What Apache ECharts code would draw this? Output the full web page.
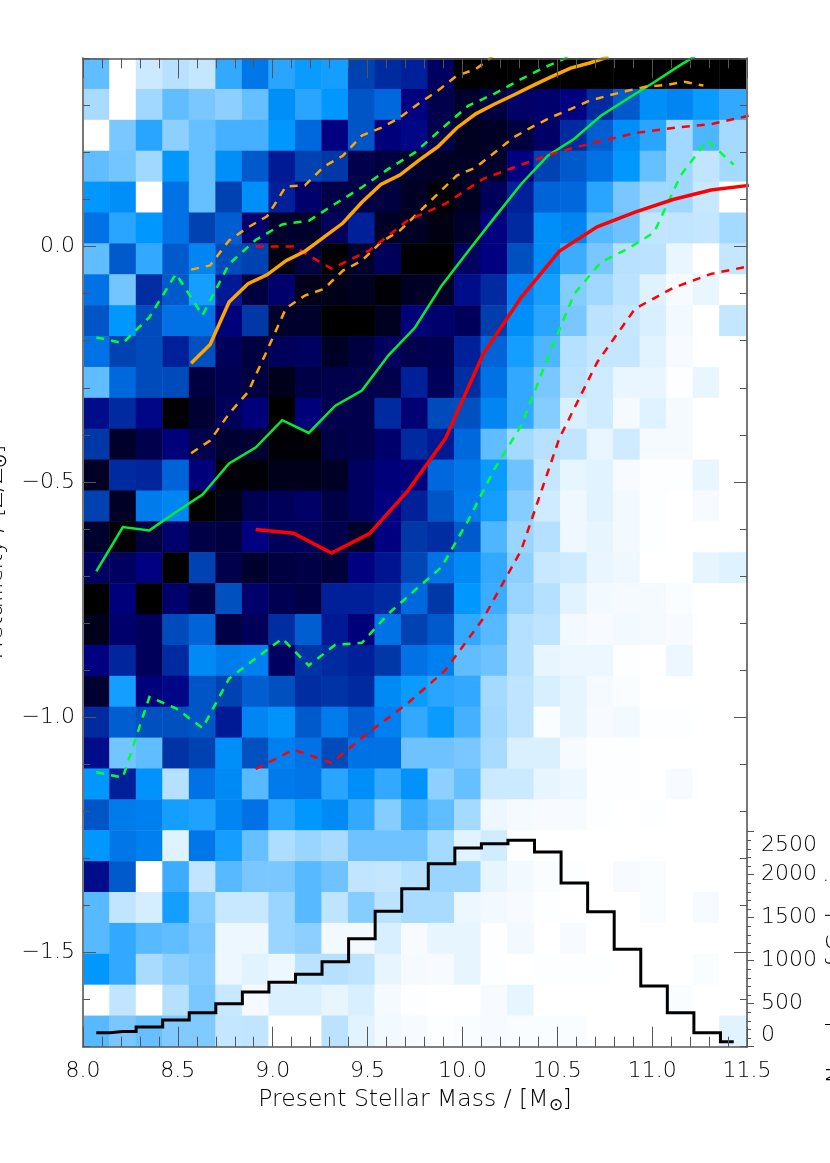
<!DOCTYPE html>
<html>
<head>
<meta charset="utf-8">
<style>html,body{margin:0;padding:0;background:#fff}#c{width:830px;height:1163px}</style>
<script src="https://cdn.jsdelivr.net/npm/echarts@6/dist/echarts.min.js"></script>
</head>
<body>
<div id="c"></div>
<script>
// Density cells, top row first (0 = white ... 100 = black)
const densityRows = [
[40,0,18,24,20,45,57,46,49,48,68,73,75,85,100,100,100,100,100,100,100,100,100,100,100],
[28,0,30,40,36,33,39,52,46,50,64,60,80,88,93,90,84,83,80,73,63,52,54,49,45],
[0,36,46,33,39,43,43,50,60,80,64,81,79,88,95,94,90,84,73,62,52,46,30,42,29],
[40,37,30,50,39,52,63,76,68,70,88,90,93,94,94,93,80,68,63,58,50,39,30,21,29],
[50,52,0,58,39,68,52,75,83,89,89,90,94,99,95,86,75,61,60,46,36,30,30,19,0],
[58,46,50,58,68,62,83,93,93,86,75,94,94,97,93,80,73,52,54,41,38,21,21,20,29],
[40,63,45,63,54,66,68,97,90,100,93,86,100,100,85,80,65,52,44,36,24,23,8,0,20],
[58,37,72,63,48,76,90,83,96,96,95,99,94,94,78,73,55,48,34,30,23,12,3,8,0],
[64,50,66,58,58,81,70,93,93,100,100,95,81,83,86,69,52,46,36,23,20,14,5,0,20],
[58,68,66,75,65,86,90,86,85,94,90,85,88,87,75,61,48,42,25,20,20,11,3,0,0],
[40,60,66,66,90,87,90,96,89,88,88,88,75,86,72,58,45,36,23,17,8,8,1,8,0],
[78,73,79,100,92,86,81,100,81,88,88,73,82,66,65,54,45,34,13,17,4,12,4,0,0],
[70,93,88,81,88,92,92,99,99,89,88,83,73,76,60,40,29,24,21,8,17,4,4,0,0],
[94,73,74,61,81,99,99,96,96,94,85,81,81,60,57,49,38,20,9,11,3,1,1,8,0],
[68,94,56,54,100,96,87,86,84,89,85,80,75,64,56,48,34,17,6,11,5,1,0,3,0],
[93,99,90,83,89,90,80,86,86,88,93,80,70,72,63,42,31,25,6,9,5,1,0,0,0],
[85,85,80,100,68,88,93,90,89,91,80,77,67,58,53,45,33,19,17,8,6,0,0,9,12],
[100,81,100,83,89,65,83,87,89,75,75,73,60,70,50,44,31,25,11,5,4,4,2,0,0],
[96,83,86,66,61,89,86,72,62,76,81,58,68,63,45,41,25,22,5,3,5,4,3,0,0],
[80,74,86,73,53,56,55,85,71,73,75,70,58,55,40,38,25,9,7,7,1,0,7,0,0],
[92,48,81,79,64,68,62,65,72,71,73,53,49,46,45,29,22,14,9,4,2,0,0,0,0],
[73,62,65,65,64,76,54,51,63,56,62,55,45,49,43,30,22,2,9,3,5,1,1,0,0],
[78,37,40,71,68,52,65,55,58,66,58,58,38,38,36,28,13,13,3,1,1,0,0,0,0],
[50,75,51,25,58,53,41,56,57,46,52,45,51,33,39,18,18,9,7,1,1,0,3,0,0],
[64,56,55,48,47,54,58,46,50,53,45,34,44,40,29,7,4,3,3,1,0,1,0,0,0],
[50,57,55,12,57,48,39,27,31,28,38,38,38,29,11,16,1,0,0,0,0,0,0,0,0],
[78,63,0,44,21,41,36,36,41,38,21,20,25,31,31,9,5,2,1,0,3,2,0,0,0],
[41,21,15,48,34,19,19,31,41,22,34,23,28,28,7,5,3,1,0,0,0,2,0,3,0],
[41,45,41,40,36,7,7,31,33,5,5,14,3,9,9,1,5,0,3,0,0,0,0,0,0],
[50,45,28,33,35,7,11,7,23,25,22,9,4,3,9,1,0,1,1,1,0,0,0,2,0],
[0,21,0,25,36,19,4,13,13,9,14,4,1,0,0,3,9,0,0,0,0,0,2,0,0],
[41,36,39,35,35,20,21,0,0,23,11,5,3,1,2,3,2,2,2,0,0,0,0,0,11]
];
const densityColors = ['#ffffff','#f2f9ff','#e4f4ff','#d5eeff','#c4e6ff','#b5e0ff','#a0d8ff','#80caff','#60bdff','#33a8ff','#0098ff','#0080f0','#0068dd','#0050c0','#0038a8','#00209a','#000080','#000060','#000040','#000020','#000000'];

// Mass nodes of the curves
const massFine = [8.07,8.17,8.27,8.37,8.47,8.57,8.67,8.77,8.87,8.97,9.07,9.17,9.27,9.37,9.47,9.57,9.67,9.77,9.87,9.97,10.07,10.17,10.27,10.37,10.47,10.57,10.67,10.77,10.87,10.97,11.07,11.17,11.27,11.37,11.47];
const massBins = [8.07,8.21,8.35,8.49,8.63,8.77,8.91,9.05,9.19,9.33,9.47,9.61,9.75,9.89,10.03,10.17,10.31,10.45,10.59,10.73,10.87,11.01,11.15,11.29,11.43];
const massCoarse = [8.91,9.11,9.31,9.51,9.71,9.91,10.11,10.31,10.51,10.71,10.91,11.11,11.31,11.51];

// Orange curves start at massFine[5]
const orangeMid = [-0.248,-0.208,-0.118,-0.079,-0.060,-0.030,-0.010,0.020,0.050,0.094,0.132,0.152,0.183,0.212,0.252,0.282,0.303,0.322,0.342,0.361,0.379,0.390,0.403];
const orangeHigh = [-0.049,-0.040,0.013,0.041,0.064,0.128,0.130,0.170,0.193,0.236,0.252,0.274,0.304,0.331,0.363,0.377,0.408];
const orangeLow = [-0.439,-0.412,-0.355,-0.309,-0.221,-0.131,-0.104,-0.090,-0.051,-0.030,0.009,0.034,0.073,0.112,0.151,0.168,0.200,0.232,0.255,0.275,0.292,0.310,0.321,0.331,0.340,0.343,0.350,0.342];
// Green curves use massBins
const greenMid = [-0.690,-0.596,-0.603,-0.564,-0.527,-0.461,-0.427,-0.369,-0.396,-0.338,-0.306,-0.231,-0.172,-0.083,-0.010,0.062,0.133,0.193,0.229,0.278,0.314,0.349,0.386,0.420];
const greenHigh = [-0.193,-0.205,-0.150,-0.058,-0.146,-0.037,0.014,0.047,0.055,0.091,0.126,0.165,0.200,0.250,0.299,0.325,0.356,0.384,0.408];
const greenLow = [-1.117,-1.128,-0.957,-0.981,-1.023,-0.918,-0.875,-0.833,-0.890,-0.846,-0.842,-0.780,-0.730,-0.681,-0.582,-0.472,-0.380,-0.236,-0.100,-0.033,-0.005,0.030,0.151,0.226,0.174];
// Red curves use massCoarse
const redMid = [-0.601,-0.609,-0.651,-0.610,-0.520,-0.408,-0.228,-0.108,-0.010,0.042,0.073,0.100,0.120,0.130];
const redHigh = [0.000,0.000,-0.047,-0.008,0.055,0.091,0.144,0.174,0.202,0.222,0.241,0.252,0.260,0.278];
const redLow = [-1.110,-1.069,-1.097,-1.031,-0.971,-0.900,-0.790,-0.645,-0.408,-0.246,-0.132,-0.088,-0.058,-0.042];

// Histogram counts per mass bin
const histCounts = [163,178,229,310,395,500,636,749,842,988,1256,1574,1837,2128,2310,2360,2400,2264,1903,1570,1132,706,395,163,58];

const yMajorTicks = [-1.5,-1.0,-0.5,0.0];

const FONT = '"DejaVu Sans"';
const AXIS = '#555';
const SIDE = '#777';
const TXT = '#000';
const textStyle = {fontFamily:FONT,fontSize:22,fontWeight:200,color:TXT};
const titleStyle = Object.assign({},textStyle,{fontSize:23.5});

const zip = (xs,ys) => ys.map((y,i)=>[xs[i],y]);
const heat = [];
densityRows.forEach((row,r)=>row.forEach((v,c)=>heat.push([c,r,v])));

const frameX = {type:'value',min:8,max:11.5,interval:0.5,gridIndex:1,z:10,
  axisLine:{show:true,onZero:false,lineStyle:{color:AXIS,width:1.5}},
  splitLine:{show:false},
  axisTick:{show:true,inside:true,length:20,lineStyle:{color:AXIS,width:1}},
  minorTick:{show:true,splitNumber:5,length:10,lineStyle:{color:AXIS,width:1}}};
const frameY = {type:'value',min:-1.7,max:0.4,interval:0.1,gridIndex:1,z:10,
  axisLine:{show:true,onZero:false,lineStyle:{color:SIDE,width:2}},
  splitLine:{show:false},
  axisTick:{show:true,inside:true,length:7,lineStyle:{color:AXIS,width:1}}};
const majorY = {type:'value',min:-1.7,max:0.4,gridIndex:1,z:10,
  axisLine:{show:false},splitLine:{show:false},axisLabel:{show:false},
  axisTick:{show:true,inside:true,length:13,customValues:yMajorTicks,lineStyle:{color:AXIS,width:1}}};

const line = (name,xs,ys,color,width,dash,z) => ({
  name,type:'line',xAxisIndex:1,yAxisIndex:1,data:zip(xs,ys),symbol:'none',silent:true,z:z||4,animation:false,
  lineStyle:{color,width,type:dash?[8,7]:'solid',cap:'butt',join:'miter'}
});

const option = {
  animation:false,
  backgroundColor:'#ffffff',
  grid:[
    {left:83,top:58.3,width:663,height:988.4,outerBoundsMode:'none'},
    {left:83,top:58.3,width:664,height:988.4,outerBoundsMode:'none'},
    {left:83,top:831.7,width:664,height:215,outerBoundsMode:'none'}
  ],
  xAxis:[
    {type:'category',gridIndex:0,show:false,data:massBins.map(String)},
    Object.assign({},frameX,{position:'bottom',
      axisLabel:Object.assign({margin:14,showMinLabel:true,showMaxLabel:true,formatter:v=>v.toFixed(1)},textStyle),
      nameLocation:'middle',nameGap:33,
      name:'{a|Present Stellar Mass / [M}{b|\u2299}{a|]}',
      nameTextStyle:{rich:{a:titleStyle,b:Object.assign({},textStyle,{fontSize:17,padding:[12,0,0,0]})}}
    }),
    Object.assign({},frameX,{position:'top',axisLabel:{show:false}}),
    {type:'value',gridIndex:2,min:8,max:11.5,show:false}
  ],
  yAxis:[
    {type:'category',gridIndex:0,show:false,inverse:true,data:densityRows.map((_,i)=>String(i))},
    Object.assign({},frameY,{position:'left',
      axisLabel:Object.assign({margin:8,padding:[5,0,0,0],customValues:yMajorTicks,
        formatter:v=>(v<0?'\u2212':'')+Math.abs(v).toFixed(1)},textStyle),
      nameLocation:'middle',nameRotate:90,nameGap:73,
      name:'{a|Metallicity / [Z/Z}{b|\u2299}{a|]}',
      nameTextStyle:{rich:{a:titleStyle,b:Object.assign({},textStyle,{fontSize:17,padding:[12,0,0,0]})}}
    }),
    Object.assign({},frameY,{position:'right',axisLabel:{show:false}}),
    Object.assign({},majorY,{position:'left'}),
    Object.assign({},majorY,{position:'right'}),
    {type:'value',gridIndex:2,position:'right',min:0,max:2500,interval:500,z:10,
      axisLine:{show:true,onZero:false,lineStyle:{color:SIDE,width:2}},
      splitLine:{show:false},
      axisTick:{show:true,inside:false,length:7,lineStyle:{color:AXIS,width:1}},
      minorTick:{show:true,splitNumber:5,length:4,lineStyle:{color:AXIS,width:1}},
      axisLabel:Object.assign({margin:14,padding:[3,0,0,0],showMinLabel:true,showMaxLabel:true,
        formatter:v=>String(v),
        verticalAlignMinLabel:'bottom',verticalAlignMaxLabel:'top'},textStyle)
    }
  ],
  visualMap:{show:false,type:'continuous',seriesIndex:0,dimension:2,min:0,max:100,inRange:{color:densityColors}},
  graphic:[{type:'text',x:849,y:1083,rotation:Math.PI/2,silent:true,z:20,
    style:{text:'Number of Galaxies',font:'200 23.5px "DejaVu Sans"',fill:TXT,textAlign:'left',textVerticalAlign:'bottom'}}],
  series:[
    {name:'density',type:'heatmap',xAxisIndex:0,yAxisIndex:0,data:heat,silent:true,progressive:0,z:1,animation:false},
    line('green low',massBins,greenLow,'#00ff33',2.5,true),
    line('green high',massBins,greenHigh,'#00ff33',2.5,true),
    line('green mid',massBins,greenMid,'#00ee33',2.5,false),
    line('orange low',massFine.slice(5),orangeLow,'#ffa500',2.5,true),
    line('orange high',massFine.slice(5),orangeHigh,'#ffa500',2.5,true),
    line('red low',massCoarse,redLow,'#ff0000',2.5,true),
    line('red high',massCoarse,redHigh,'#ff0000',2.5,true),
    line('orange mid',massFine.slice(5),orangeMid,'#ffa500',3.5,false),
    line('red mid',massCoarse,redMid,'#ff0000',3.5,false),
    {name:'stellar mass histogram',type:'line',step:'middle',xAxisIndex:3,yAxisIndex:5,data:zip(massBins,histCounts),
      symbol:'none',silent:true,z:6,animation:false,lineStyle:{color:'#000',width:3,join:'miter'}}
  ]
};
const chart = echarts.init(document.getElementById('c'),null,{renderer:'canvas',width:830,height:1163});
chart.setOption(option);
</script>
</body>
</html>
